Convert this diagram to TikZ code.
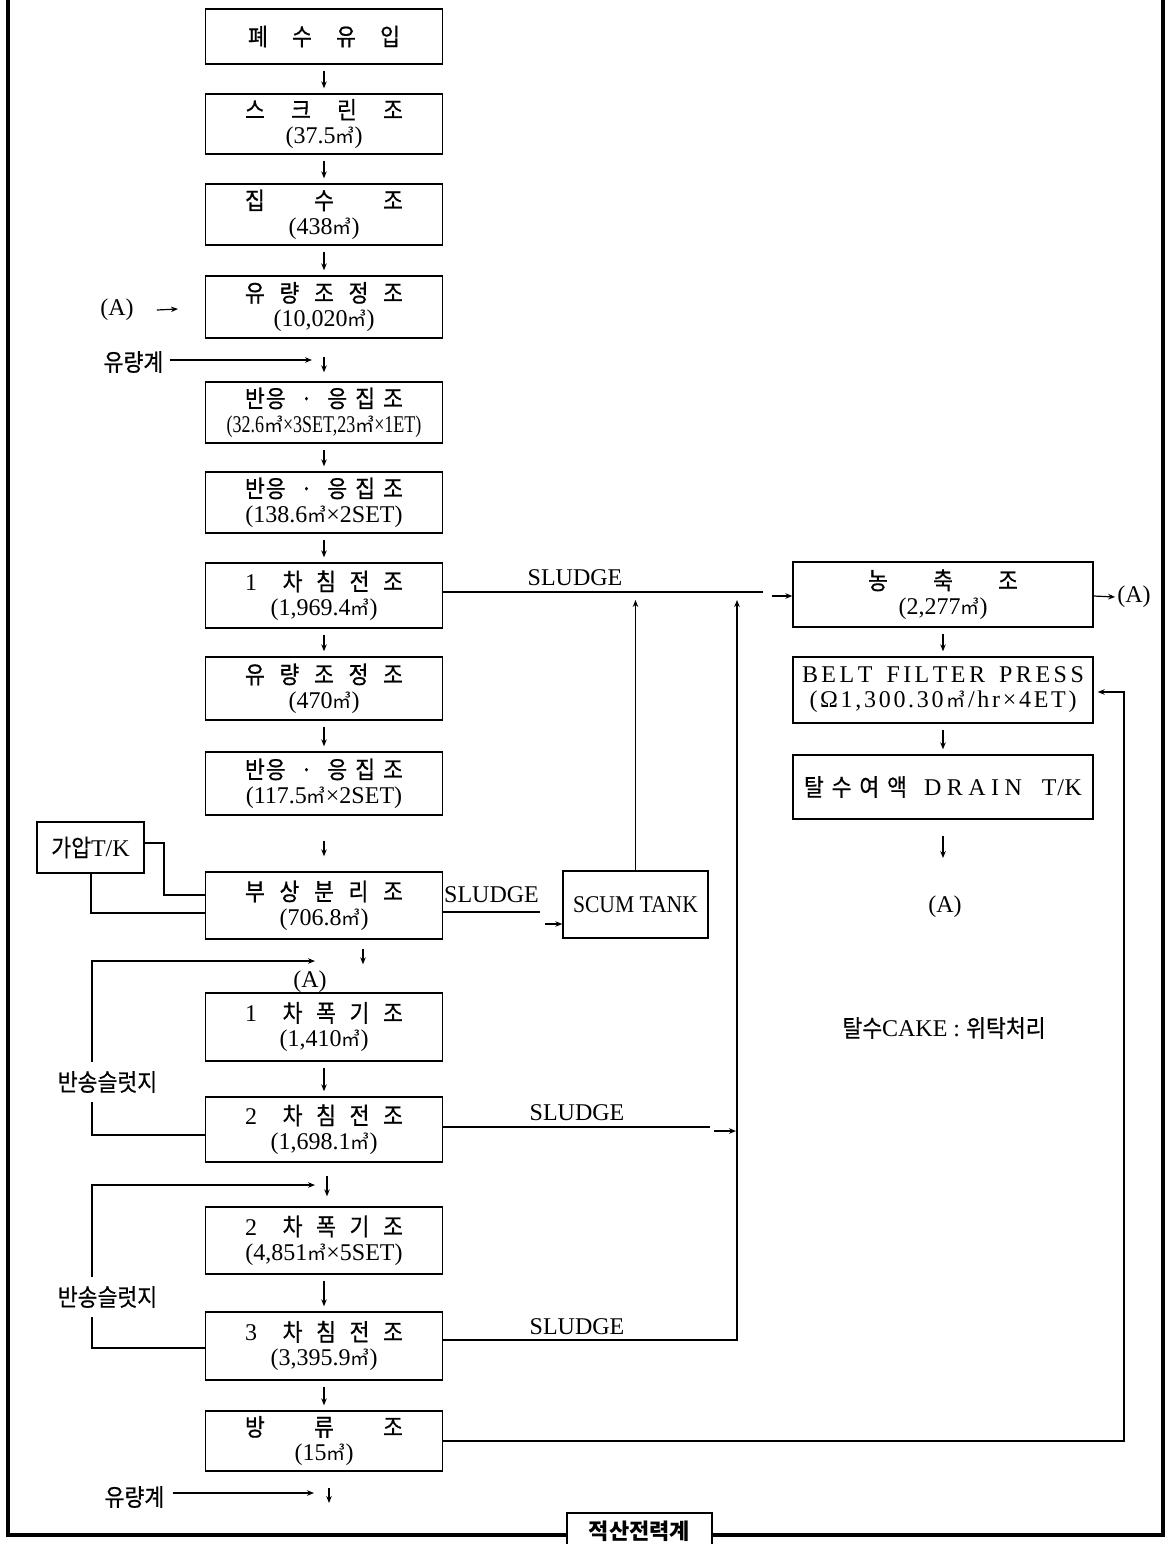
\documentclass[tikz,border=0pt]{standalone}
\usepackage{fontspec}
\setmainfont{Liberation Serif}
\newfontfamily\cjk[FakeStretch=0.9,FakeBold=0.6]{Noto Sans CJK KR}
\newfontfamily\cjkm{Noto Sans CJK KR}
\newfontfamily\condf[FakeStretch=0.75]{Liberation Serif}
\newfontfamily\scumf[FakeStretch=0.9]{Liberation Serif}
\usetikzlibrary{arrows.meta}
\newcommand\kr[1]{{\cjk\fontsize{24}{25}\selectfont #1}}
\newcommand\lat[1]{{\rmfamily\fontsize{24}{25}\selectfont #1}}
\newcommand\mc{{\cjkm\fontsize{19}{25}\selectfont ㎥}}
\newcommand\spr[2]{\makebox[#1][s]{#2}}
\newcommand\bangtitle{\kr{\spr{158pt}{반\hspace{1pt}응\hfill ·\hfill 응\hspace{8pt}집\hspace{8pt}조}}}
\begin{document}
\begin{tikzpicture}[x=1pt,y=-1pt,
  box/.style={draw, line width=1.3pt, fill=white, minimum width=237pt, inner sep=0pt, align=center, font=\fontsize{24}{25}\selectfont},
  lbl/.style={inner sep=0pt, font=\fontsize{24}{25}\selectfont},
  conn/.style={line width=1.2pt},
  arr/.style={conn, -{Stealth[length=7pt,width=5.5pt]}},
  dn/.style={arr, shorten <=6pt, shorten >=5pt}]
\useasboundingbox (0,0) rectangle (1170,1544);
\clip (0,0) rectangle (1170,1544);
\fill[white] (0,0) rectangle (1170,1544);
% outer frame
\draw[line width=3.5pt] (8,-10) -- (8,1535) -- (1163,1535) -- (1163,-10);

% main column
\node[box, minimum height=55pt] (b1) at (324,36.5) {\kr{\spr{152pt}{폐\hfill 수\hfill 유\hfill 입}}};
\node[box, minimum height=60pt] (b2) at (324,124) {\kr{\spr{158pt}{스\hfill 크\hfill 린\hfill 조}}\\(37.5\mc)};
\node[box, minimum height=61pt] (b3) at (324,214.5) {\kr{\spr{158pt}{집\hfill 수\hfill 조}}\\(438\mc)};
\node[box, minimum height=62pt] (b4) at (324,307) {\kr{\spr{158pt}{유\hfill 량\hfill 조\hfill 정\hfill 조}}\\(10,020\mc)};
\node[box, minimum height=61pt] (b5) at (324,412.5) {\bangtitle\\{\condf (32.6\mc×3SET,23\mc×1ET)}};
\node[box, minimum height=61pt] (b6) at (324,502.5) {\bangtitle\\(138.6\mc×2SET)};
\node[box, minimum height=65pt] (b7) at (324,595.5) {\kr{\spr{158pt}{\lat{1}\hspace{12pt}\hfill 차\hfill 침\hfill 전\hfill 조}}\\(1,969.4\mc)};
\node[box, minimum height=63pt] (b8) at (324,688.5) {\kr{\spr{158pt}{유\hfill 량\hfill 조\hfill 정\hfill 조}}\\(470\mc)};
\node[box, minimum height=63pt] (b9) at (324,783.5) {\bangtitle\\(117.5\mc×2SET)};
\node[box, minimum height=67pt] (b10) at (324,905.5) {\kr{\spr{158pt}{부\hfill 상\hfill 분\hfill 리\hfill 조}}\\(706.8\mc)};
\node[box, minimum height=68pt] (b11) at (324,1027) {\kr{\spr{158pt}{\lat{1}\hspace{12pt}\hfill 차\hfill 폭\hfill 기\hfill 조}}\\(1,410\mc)};
\node[box, minimum height=65pt] (b12) at (324,1129.5) {\kr{\spr{158pt}{\lat{2}\hspace{12pt}\hfill 차\hfill 침\hfill 전\hfill 조}}\\(1,698.1\mc)};
\node[box, minimum height=67pt] (b13) at (324,1240.5) {\kr{\spr{158pt}{\lat{2}\hspace{12pt}\hfill 차\hfill 폭\hfill 기\hfill 조}}\\(4,851\mc×5SET)};
\node[box, minimum height=68pt] (b14) at (324,1346) {\kr{\spr{158pt}{\lat{3}\hspace{12pt}\hfill 차\hfill 침\hfill 전\hfill 조}}\\(3,395.9\mc)};
\node[box, minimum height=60pt] (b15) at (324,1441) {\kr{\spr{158pt}{방\hfill 류\hfill 조}}\\(15\mc)};

% right column
\node[box, minimum width=300pt, minimum height=65pt] (nk) at (943,594.5) {\kr{\spr{150pt}{농\hfill 축\hfill 조}}\\(2,277\mc)};
\node[box, minimum width=300pt, minimum height=66pt] (bfp) at (943,690) {\spr{70.5pt}{B\hfill E\hfill L\hfill T}\hspace{14pt}\spr{98.5pt}{F\hfill I\hfill L\hfill T\hfill E\hfill R}\hspace{14pt}\spr{85pt}{P\hfill R\hfill E\hfill S\hfill S}\\\spr{267pt}{(\hfill Ω\hfill 1\hfill ,\hfill 3\hfill 0\hfill 0\hfill .\hfill 3\hfill 0\hfill \mc\hfill /\hfill h\hfill r\hfill ×\hfill 4\hfill E\hfill T\hfill )}};
\node[box, minimum width=300pt, minimum height=64pt] (dr) at (943,787) {\kr{\spr{103pt}{탈\hfill 수\hfill 여\hfill 액}}\hspace{17pt}\spr{98pt}{D\hfill R\hfill A\hfill I\hfill N}\hspace{20pt}\spr{40pt}{T\hfill /\hfill K}};
\node[box, minimum width=145pt, minimum height=67pt] (sc) at (635.5,904.5) {\scumf SCUM TANK};
\node[box, minimum width=107pt, minimum height=51pt] (ga) at (90.5,847.5) {\kr{가압}T/K};

% labels
\node[lbl] (A1) at (117,310) {(A)};
\node[lbl] (fm1) at (133.5,362) {\kr{유량계}};
\node[lbl] (fm2) at (134.5,1497) {\kr{유량계}};
\node[lbl] (A2) at (310,982) {(A)};
\node[lbl] (sl1) at (575,578) {SLUDGE};
\node[lbl] (sl2) at (491.5,895) {SLUDGE};
\node[lbl] (sl3) at (577,1113) {SLUDGE};
\node[lbl] (sl4) at (577,1327) {SLUDGE};
\node[lbl] (A3) at (1134,597) {(A)};
\node[lbl] (A4) at (945,907) {(A)};
\node[lbl] (cake) at (944,1028) {\kr{탈수}CAKE : \kr{위탁처리}};

% free ends
\coordinate (a1t) at (178,309);
\coordinate (fm1t) at (312,360);
\coordinate (fm2t) at (314,1493);
\coordinate (fm2d) at (329,1503);
\coordinate (r1t) at (315,961);
\coordinate (r2t) at (315,1185);
\coordinate (u1) at (635.5,600);
\coordinate (s1e) at (763,592);
\coordinate (s1a) at (772,596);
\coordinate (s2e) at (540,912);
\coordinate (s2a) at (545,924);
\coordinate (s3e) at (710,1127);
\coordinate (s3a) at (714,1131);
\coordinate (s3t) at (736,1131);
\coordinate (vb) at (737,1340);
\coordinate (vt) at (737,600);
\coordinate (rb) at (1124,1441);
\coordinate (rt) at (1124,692);
\coordinate (d1) at (943,858);

% main down arrows
\draw[dn] (b1) -- (b2);
\draw[dn] (b2) -- (b3);
\draw[dn] (b3) -- (b4);
\draw[arr] ([yshift=-18pt]b4.south) -- ([yshift=9pt]b5.north);
\draw[dn] (b5) -- (b6);
\draw[dn] (b6) -- (b7);
\draw[dn] (b7) -- (b8);
\draw[dn] (b8) -- (b9);
\draw[arr] ([yshift=-25pt]b9.south) -- ([yshift=15pt]b10.north);
\draw[arr] ([xshift=39pt,yshift=-9pt]b10.south) -- ([xshift=39pt,yshift=28pt]b11.north);
\draw[dn] (b11) -- (b12);
\draw[arr] ([xshift=3pt,yshift=-13pt]b12.south) -- ([xshift=3pt,yshift=10pt]b13.north);
\draw[dn] (b13) -- (b14);
\draw[dn] (b14) -- (b15);
\draw[arr] ([xshift=5pt,yshift=-16pt]b15.south) -- (fm2d);

% side inputs
\draw[arr] ([xshift=23pt]A1.east) -- (a1t);
\draw[arr] ([xshift=6pt,yshift=2pt]fm1.east) -- (fm1t);
\draw[arr] ([xshift=8pt,yshift=4pt]fm2.east) -- (fm2t);

% pressure tank
\draw[conn] ([yshift=4.5pt]ga.east) -- (164,843) |- ([yshift=10.5pt]b10.west);
\draw[conn] ([xshift=0.5pt]ga.south) |- ([yshift=-7.5pt]b10.west);

% return sludge lines
\draw[arr] ([yshift=-5.5pt]b12.west) -- (92,1135) |- (r1t);
\draw[arr] ([yshift=-2pt]b14.west) -- (92,1348) |- (r2t);
\node[lbl, fill=white, inner ysep=9pt, inner xsep=1pt] (rs1) at (107.5,1082) {\kr{반송슬럿지}};
\node[lbl, fill=white, inner ysep=9pt, inner xsep=1pt] (rs2) at (107.5,1297) {\kr{반송슬럿지}};

% sludge lines
\draw[conn] ([yshift=3.5pt]b7.east) -- (s1e);
\draw[arr] (s1a) -- ([yshift=-1.5pt]nk.west);
\draw[conn] ([yshift=-6.5pt]b10.east) -- (s2e);
\draw[arr] (s2a) -- ([yshift=-19.5pt]sc.west);
\draw[arr] (sc.north) -- (u1);
\draw[conn] ([yshift=2.5pt]b12.east) -- (s3e);
\draw[arr] (s3a) -- (s3t);
\draw[arr] ([yshift=6pt]b14.east) -- (vb) -- (vt);

% right column arrows
\draw[dn] (nk) -- (bfp);
\draw[dn] (bfp) -- (dr);
\draw[arr] ([yshift=-16pt]dr.south) -- (d1);
\draw[arr] ([yshift=-1.5pt]nk.east) -- ([xshift=-2pt]A3.west);
\draw[arr, shorten >=4pt] (b15.east) -- (rb) -- (rt) -- ([yshift=-2pt]bfp.east);

% meter box on the frame
\node[box, minimum width=145pt, minimum height=60pt] (mt) at (639.5,1543) {};
\node[lbl, font=\cjkm\bfseries\fontsize{22}{24}\selectfont] (mtt) at (639.5,1531) {적산전력계};
\end{tikzpicture}
\end{document}
